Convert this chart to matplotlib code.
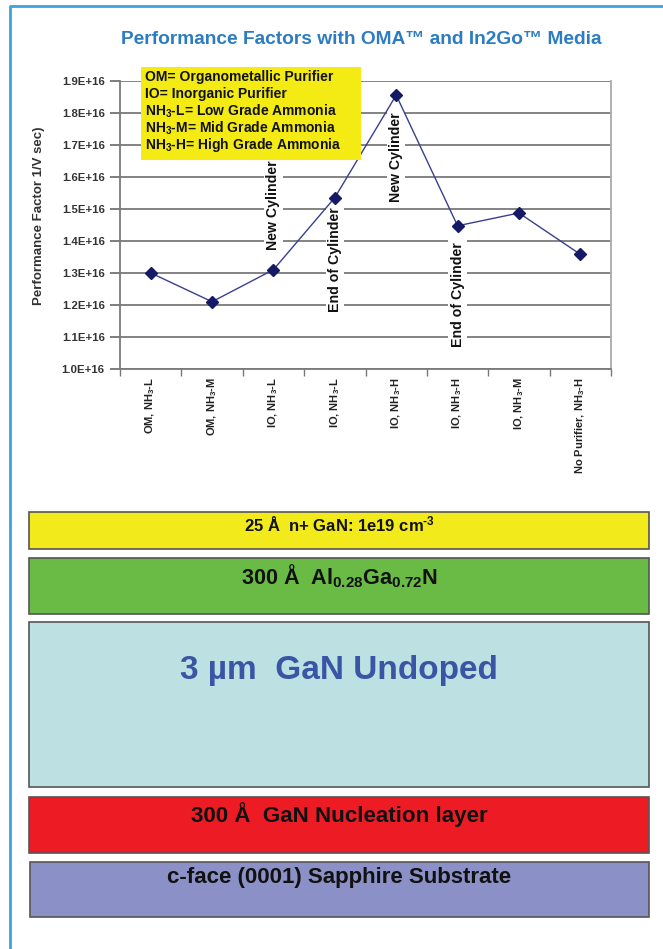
import matplotlib.pyplot as plt
from matplotlib.patches import Rectangle
from matplotlib.ticker import FuncFormatter
import numpy as np

plt.rcParams['font.family'] = ['Liberation Sans', 'DejaVu Sans']
plt.rcParams['font.weight'] = 'bold'
plt.rcParams['mathtext.fontset'] = 'custom'
plt.rcParams['mathtext.rm'] = 'Liberation Sans:bold'
plt.rcParams['mathtext.it'] = 'Liberation Sans:bold'
plt.rcParams['mathtext.bf'] = 'Liberation Sans:bold'
plt.rcParams['mathtext.default'] = 'rm'

# chart data
categories = ['OM, NH$_3$-L', 'OM, NH$_3$-M', 'IO, NH$_3$-L', 'IO, NH$_3$-L',
              'IO, NH$_3$-H', 'IO, NH$_3$-H', 'IO, NH$_3$-M', 'No Purifier, NH$_3$-H']
perf = [1.30e16, 1.21e16, 1.31e16, 1.535e16, 1.855e16, 1.447e16, 1.487e16, 1.358e16]
yticks = [1.0e16, 1.1e16, 1.2e16, 1.3e16, 1.4e16, 1.5e16, 1.6e16, 1.7e16, 1.8e16, 1.9e16]

notes = ['New Cylinder', 'End of Cylinder', 'New Cylinder', 'End of Cylinder']
note_idx = [2, 3, 4, 5]
note_y = [1.371e16, 1.178e16, 1.521e16, 1.069e16]

key_lines = ['OM= Organometallic Purifier',
             'IO= Inorganic Purifier',
             'NH$_3$-L= Low Grade Ammonia',
             'NH$_3$-M= Mid Grade Ammonia',
             'NH$_3$-H= High Grade Ammonia']

# layer stack
layer_labels = ['25 Å  n+ GaN: 1e19 cm$^{\\text{-}3}$',
                '300 Å  Al$_{0.28}$Ga$_{0.72}$N',
                '3 µm  GaN Undoped',
                '300 Å  GaN Nucleation layer',
                'c-face (0001) Sapphire Substrate']
layer_colors = ['#f2ea1a', '#6abb45', '#bde0e3', '#ed1c24', '#8b90c6']

W, H = 663, 949
fig = plt.figure(figsize=(W / 100, H / 100), dpi=100)
fig.patch.set_facecolor('white')

ax = fig.add_axes([120 / W, 1 - 369 / H, 491 / W, 288.3 / H])
x = np.arange(len(categories))
ax.plot(x, perf, color='#3a3f8f', lw=1, marker='D', ms=6.5,
        mfc='#141a66', mec='#141a66', zorder=4)
ax.set_xlim(-0.5, len(categories) - 0.5)
ax.set_ylim(yticks[0], yticks[-1])
ax.set_yticks(yticks)
ax.yaxis.set_major_formatter(FuncFormatter(lambda v, p: f'{v / 1e16:.1f}E+16'))
ax.yaxis.grid(True, color='#7a7a7a', lw=1.3)
ax.set_axisbelow(True)
ax.tick_params(axis='y', length=7, width=1.2, color='#666666', labelsize=8.2,
               labelcolor='#333333', pad=4)
ax.set_xticks(x)
ax.set_xticklabels(categories, rotation=90, fontsize=8, color='#222222')
ax.set_xticks(np.arange(-0.5, len(categories)), minor=True)
ax.tick_params(axis='x', which='major', length=0, pad=6)
ax.tick_params(axis='x', which='minor', length=5, width=1, color='#777777')
ax.spines['left'].set_color('#7a7a7a')
ax.spines['bottom'].set_color('#7a7a7a')
ax.spines['right'].set_color('#aaaaaa')
ax.spines['top'].set_visible(False)
for side in ['left', 'bottom', 'right']:
    ax.spines[side].set_linewidth(1.3)

for n, i, yy in zip(notes, note_idx, note_y):
    ax.text(i, yy, n, rotation=90, ha='center', va='bottom', fontsize=10.2,
            color='#111111', zorder=3, bbox=dict(fc='white', ec='none', pad=1.5))

fig.text(361 / W, 1 - 40 / H, 'Performance Factors with OMA™ and In2Go™ Media',
         ha='center', va='center', fontsize=13.8, color='#2d7cc1')
fig.text(39 / W, 1 - 216 / H, 'Performance Factor 1/V sec)', rotation=90,
         ha='center', va='center', fontsize=9.5, color='#333333')

ov = fig.add_axes([0, 0, 1, 1], zorder=5)
ov.set_xlim(0, W)
ov.set_ylim(H, 0)
ov.axis('off')

# key box
ov.add_patch(Rectangle((141, 67), 220, 93, fc='#f5eb14', ec='none'))
for k, line in enumerate(key_lines):
    ov.text(145, 77 + k * 17, line, ha='left', va='center', fontsize=10,
            color='#111111')

# layers
boxes = [(29, 512, 37), (29, 558, 56), (29, 622, 165), (29, 797, 56), (30, 862, 55)]
text_y = [525, 576, 670, 815, 878]
sizes = [12, 15.6, 24, 16.1, 16]
for (bx, by, bh), c, lab, ty, fs in zip(boxes, layer_colors, layer_labels, text_y, sizes):
    ov.add_patch(Rectangle((bx, by), 649 - bx, bh, fc=c, ec='#555555', lw=1.2))
    tc = '#3b55a5' if lab.startswith('3 µm') else '#111111'
    ov.text(339, ty, lab, ha='center', va='center', fontsize=fs, color=tc)

# frame
ov.plot([10, 10, W], [H, 6, 6], color='#3fa2dc', lw=2, solid_capstyle='butt')

fig.savefig('out.png', dpi=100)
